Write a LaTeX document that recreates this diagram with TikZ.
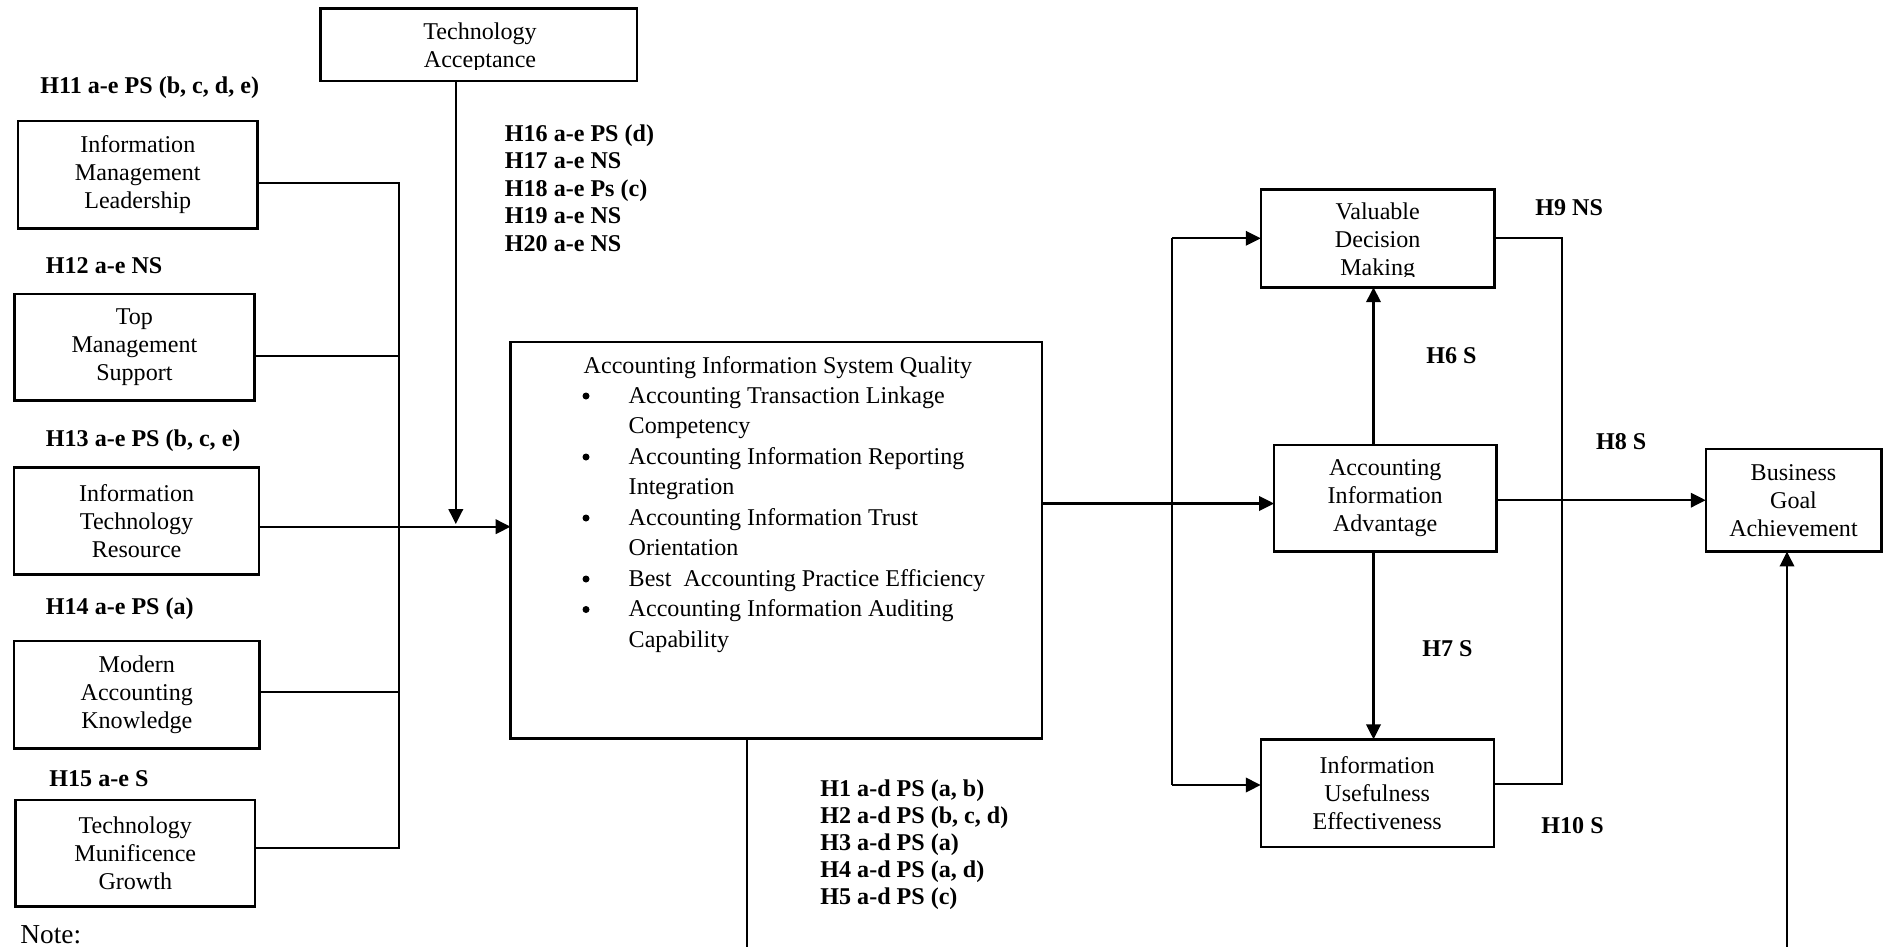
\documentclass[tikz,border=0pt]{standalone}
\usepackage{fontspec}
\setmainfont{Liberation Serif}
\usetikzlibrary{arrows.meta}
\begin{document}
\begin{tikzpicture}[x=0.457pt, y=-0.457pt,
  box/.style={draw, line width=1.1pt, inner sep=0pt, outer sep=0pt, align=center,
              font=\fontsize{11}{12.8}\selectfont},
  sz/.style 2 args={minimum width=#1*0.457pt, minimum height=#2*0.457pt},
  link/.style={line width=1pt},
  arrow/.style={link, -{Triangle[length=6.8pt,width=6.6pt]}},
  hyp/.style={anchor=base west, inner sep=0pt, font=\fontsize{11}{12.6}\selectfont\bfseries},
  txt/.style={anchor=base west, inner sep=0pt, font=\fontsize{11}{13}\selectfont},
  dot/.style={circle, fill, inner sep=0pt, minimum size=3.2pt}]

\useasboundingbox (0,0) rectangle (1887,946);
\clip (0,0) rectangle (1887,946);
\fill[white] (0,0) rectangle (1887,946);

% ---- antecedent constructs (left column)
\node[box, sz={239.6}{107.3}] (iml) at (137.8,174.7) {Information\\Management\\Leadership};
\node[box, sz={240.2}{106.7}] (tms) at (134.4,347.3) {Top\\Management\\Support};
\node[box, sz={244.7}{107}]   (itr) at (136.6,520.8) {Information\\Technology\\Resource};
\node[box, sz={245.1}{107.3}] (mak) at (136.8,694.7) {Modern\\Accounting\\Knowledge};
\node[box, sz={239.4}{106.7}] (tmg) at (135.3,853.3) {Technology\\Munificence\\Growth};

% ---- moderator
\node[box, sz={316.5}{72.4}] (ta) at (478.8,44.5) {};
\begin{scope}
  \clip (320.5,8.3) rectangle (637,69);
  \node[box, draw=none] (tatext) at (480,47.5) {Technology\\Acceptance};
\end{scope}

% ---- central construct
\node[box, sz={531.3}{396.6}] (aisq) at (776.2,540) {};
\node[txt] (aisqtitle) at (583.3,373) {Accounting Information System Quality};
\foreach \t/\yy [count=\i] in {Accounting Transaction Linkage/403,
                               Competency/433.5,
                               Accounting Information Reporting/464,
                               Integration/494.5,
                               Accounting Information Trust/525,
                               Orientation/555.5,
                               Best\ \ Accounting Practice Efficiency/586,
                               Accounting Information Auditing/616.5,
                               Capability/647}
  \node[txt] (item\i) at (628.3,\yy) {\t};
\foreach \yy [count=\i] in {396,457,518,579,609.5}
  \node[dot] (dot\i) at (586,\yy) {};

% ---- consequences (right side)
\node[box, sz={233.6}{98}] (vdm) at (1377.5,238.3) {};
\begin{scope}
  \clip (1260.7,189.3) rectangle (1494.3,276.7);
  \node[box, draw=none] (vdmtext) at (1377.7,241.3) {Valuable\\Decision\\Making};
\end{scope}
\node[box, sz={222.3}{106.7}] (aia) at (1385.2,498.3) {Accounting\\Information\\Advantage};
\node[box, sz={175.6}{102.8}] (bga) at (1793.5,500.2) {Business\\Goal\\Achievement};
\node[box, sz={233}{107.4}]   (iue) at (1377.2,793) {Information\\Usefulness\\Effectiveness};

% ---- hypothesis results
\node[hyp] (h11) at (40,93)      {H11 a-e PS (b, c, d, e)};
\node[hyp] (h12) at (45.5,273)   {H12 a-e NS};
\node[hyp] (h13) at (45.5,446.3) {H13 a-e PS (b, c, e)};
\node[hyp] (h14) at (45.5,614.7) {H14 a-e PS (a)};
\node[hyp] (h15) at (49,786.3)   {H15 a-e S};
\foreach \t [count=\i] in {{H16 a-e PS (d)},{H17 a-e NS},{H18 a-e Ps (c)},{H19 a-e NS},{H20 a-e NS}}
  \node[hyp] (hm\i) at (504.5,{141.3+27.5*(\i-1)}) {\t};
\foreach \t [count=\i] in {{H1 a-d PS (a, b)},{H2 a-d PS (b, c, d)},{H3 a-d PS (a)},{H4 a-d PS (a, d)},{H5 a-d PS (c)}}
  \node[hyp] (hc\i) at (820,{796.3+27.1*(\i-1)}) {\t};
\node[hyp] (h9)  at (1535,215.7)   {H9 NS};
\node[hyp] (h6)  at (1426,363.7)   {H6 S};
\node[hyp] (h8)  at (1595.7,449.8) {H8 S};
\node[hyp] (h7)  at (1422,656.3)   {H7 S};
\node[hyp] (h10) at (1541,833.7)   {H10 S};

\node[anchor=base west, inner sep=0pt, font=\fontsize{12.5}{14}\selectfont] (note) at (20,943) {Note:};

% ---- junction points
\coordinate (j1) at (399,183.3);
\coordinate (j2) at (399,356);
\coordinate (j3) at (399,526.7);
\coordinate (j4) at (399,691.7);
\coordinate (j5) at (399,848.3);
\coordinate (tatip) at (455.8,524);
\coordinate (k)   at (1172.3,503.5);
\coordinate (lb1) at (1172.3,238.3);
\coordinate (lb2) at (1172.3,785);
\coordinate (rb1) at (1562.3,238.3);
\coordinate (rb2) at (1562.3,784);
\coordinate (vx)  at (1373.5,0);
\coordinate (aout) at (746.7,960);
\coordinate (gin)  at (1787,960);

% ---- connectors
\draw[link] (iml.east |- j1) -- (j1) -- (j5) -- (tmg.east |- j5);
\draw[link] (tms.east |- j2) -- (j2);
\draw[link] (mak.east |- j4) -- (j4);
\draw[arrow] (itr.east |- j3) -- (aisq.west |- j3);
\draw[arrow] (ta.south -| tatip) -- (tatip);

\draw[link] (aisq.south -| aout) -- (aout);
\draw[arrow] (aisq.east |- k) -- (aia.west |- k);
\draw[link] (lb1) -- (lb2);
\draw[arrow] (lb1) -- (vdm.west |- lb1);
\draw[arrow] (lb2) -- (iue.west |- lb2);

\draw[arrow] (aia.north -| vx) -- (vdm.south -| vx);
\draw[arrow] (aia.south -| vx) -- (iue.north -| vx);
\draw[arrow] (aia.east |- bga.west) -- (bga.west);
\draw[link] (vdm.east |- rb1) -- (rb1) -- (rb2) -- (iue.east |- rb2);
\draw[arrow] (gin) -- (bga.south -| gin);

\end{tikzpicture}
\end{document}
